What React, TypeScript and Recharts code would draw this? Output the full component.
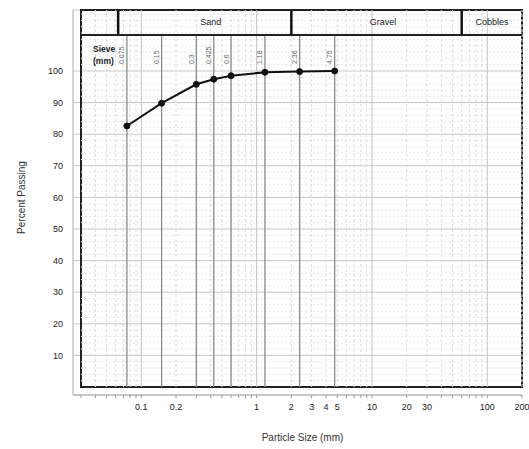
import React from 'react';
import {
  ComposedChart, Line, XAxis, YAxis, CartesianGrid, ReferenceLine, ReferenceArea, ReferenceDot,
} from 'recharts';

// Sieve data
const sieveSizes = [0.075, 0.15, 0.3, 0.425, 0.6, 1.18, 2.36, 4.75];
const sieveLabels = ['0.075', '0.15', '0.3', '0.425', '0.6', '1.18', '2.36', '4.75'];
const percentPassing = [82.6, 89.8, 95.8, 97.4, 98.5, 99.6, 99.8, 100];

// Axes
const xMin = 0.03;
const xMax = 200;
const yMax = 119.3;
const bandBottom = 111.4;
const xTicks = [
  0.03, 0.04, 0.05, 0.06, 0.07, 0.08, 0.09,
  0.1, 0.2, 0.3, 0.4, 0.5, 0.6, 0.7, 0.8, 0.9,
  1, 2, 3, 4, 5, 6, 7, 8, 9,
  10, 20, 30, 40, 50, 60, 70, 80, 90,
  100, 200,
];
const xTickLabels = ['0.1', '0.2', '1', '2', '3', '4', '5', '10', '20', '30', '100', '200'];
const xDecades = [0.1, 1, 10, 100];
const yTicks = [10, 20, 30, 40, 50, 60, 70, 80, 90, 100];
const yMinorGrid = [
  2, 4, 6, 8, 12, 14, 16, 18, 22, 24, 26, 28, 32, 34, 36, 38, 42, 44, 46, 48,
  52, 54, 56, 58, 62, 64, 66, 68, 72, 74, 76, 78, 82, 84, 86, 88, 92, 94, 96, 98,
  102, 104, 106, 108, 110, 112, 114, 116, 118,
];

// Soil classification band
const bandNames = ['', 'Sand', 'Gravel', 'Cobbles'];
const bandBounds = [0.03, 0.063, 2, 60, 200];
const bandLabelAt = [0.045, 0.4, 12.5, 110];
const bandLabelValue = 115.35;
const sieveHeaderAt = 0.03;
const sieveHeaderValue = 105;
const sieveLabelValue = 102.2;

const data = sieveSizes.map((s, i) => ({ size: s, pct: percentPassing[i] }));
const labelSet = new Set(xTickLabels);

const FONT = '"Liberation Sans", Arial, sans-serif';

const SieveLabel = (text: string) => (p: any) => {
  const vb = p.viewBox || p;
  const x = vb.x - 2.5;
  const y = vb.y;
  return (
    <text x={x} y={y} transform={`rotate(-90 ${x} ${y})`} fontSize={7} fill="#666" textAnchor="start" fontFamily={FONT}>
      {text}
    </text>
  );
};

const BandLabel = (text: string) => (p: any) => {
  const vb = p.viewBox || p;
  return (
    <text x={vb.x} y={vb.y} fontSize={9} fill="#222" textAnchor="middle" dominantBaseline="central" fontFamily={FONT}>
      {text}
    </text>
  );
};

const SieveHeader = (p: any) => {
  const vb = p.viewBox || p;
  return (
    <text x={vb.x + 12} y={vb.y} fontSize={8.5} fill="#222" fontWeight="bold" fontFamily={FONT}>
      <tspan x={vb.x + 12} dy={-3}>Sieve</tspan>
      <tspan x={vb.x + 12} dy={12}>(mm)</tspan>
    </text>
  );
};

const YTitle = (p: any) => {
  const vb = p.viewBox || p;
  const x = vb.x + 20;
  const y = vb.y + vb.height / 2 - 5;
  return (
    <text x={x} y={y} transform={`rotate(-90 ${x} ${y})`} fontSize={10} fill="#333" textAnchor="middle" dominantBaseline="central" fontFamily={FONT}>
      Percent Passing
    </text>
  );
};

const XTitle = (p: any) => {
  const vb = p.viewBox || p;
  return (
    <text x={vb.x + vb.width / 2 + 5} y={vb.y + 42} fontSize={10} fill="#333" textAnchor="middle" dominantBaseline="central" fontFamily={FONT}>
      Particle Size (mm)
    </text>
  );
};

export default function App() {
  return (
    <div style={{ position: 'absolute', left: 0, top: 0, width: 529, height: 449, background: '#fff', fontFamily: FONT }}>
      <ComposedChart width={529} height={449} data={data} margin={{ top: 10, right: 7, bottom: 24, left: 1 }}>
        <CartesianGrid horizontal vertical={false} stroke="#c8c8c8" />
        <XAxis
          dataKey="size"
          type="number"
          scale="log"
          domain={[xMin, xMax]}
          ticks={xTicks}
          interval={0}
          allowDataOverflow
          padding={{ left: 8, right: 0 }}
          height={30}
          tickSize={3}
          tickMargin={6}
          tickLine={{ stroke: '#999' }}
          axisLine={{ stroke: '#aaa' }}
          tick={{ fontSize: 9, fill: '#222', fontFamily: FONT }}
          tickFormatter={(v: number) => (labelSet.has(String(v)) ? String(v) : '')}
          label={XTitle}
        />
        <YAxis
          type="number"
          domain={[0, yMax]}
          ticks={yTicks}
          interval={0}
          allowDataOverflow
          padding={{ top: 0, bottom: 8 }}
          width={72}
          tickLine={false}
          tickMargin={4}
          axisLine={{ stroke: '#aaa' }}
          tick={{ fontSize: 9, fill: '#222', fontFamily: FONT }}
          label={YTitle}
        />

        {yMinorGrid.map((v) => (
          <ReferenceLine key={'hy' + v} segment={[{ x: xMin, y: v }, { x: xMax, y: v }]} stroke="#e6e6e6" strokeDasharray="2 2" />
        ))}
        {xTicks.filter((v) => v !== xMin).map((v) => (
          <ReferenceLine
            key={'vx' + v}
            segment={[{ x: v, y: 0 }, { x: v, y: yMax }]}
            stroke={xDecades.includes(v) ? '#c4c4c4' : '#dedede'}
            strokeDasharray={xDecades.includes(v) ? undefined : '3 2'}
          />
        ))}

        {sieveSizes.map((s) => (
          <ReferenceLine key={'sv' + s} segment={[{ x: s, y: 0 }, { x: s, y: bandBottom }]} stroke="#8a8a8a" strokeWidth={1.3} />
        ))}
        {sieveSizes.map((s, i) => (
          <ReferenceDot key={'sl' + s} x={s} y={sieveLabelValue} r={0} fill="none" stroke="none" label={SieveLabel(sieveLabels[i])} />
        ))}
        <ReferenceDot x={sieveHeaderAt} y={sieveHeaderValue} r={0} fill="none" stroke="none" ifOverflow="visible" label={SieveHeader} />

        <ReferenceArea x1={xMin} x2={xMax} y1={0} y2={yMax} fill="none" stroke="#222" strokeWidth={2} />
        <ReferenceLine segment={[{ x: xMin, y: bandBottom }, { x: xMax, y: bandBottom }]} stroke="#222" strokeWidth={2} />
        {bandBounds.slice(1, -1).map((b) => (
          <ReferenceLine key={'bb' + b} segment={[{ x: b, y: bandBottom }, { x: b, y: yMax }]} stroke="#111" strokeWidth={2.5} />
        ))}
        {bandNames.map((n, i) =>
          n ? (
            <ReferenceDot key={'bn' + n} x={bandLabelAt[i]} y={bandLabelValue} r={0} fill="none" stroke="none" label={BandLabel(n)} />
          ) : null
        )}

        <Line
          dataKey="pct"
          stroke="#111"
          strokeWidth={2}
          dot={{ r: 3, fill: '#111', stroke: '#111', strokeWidth: 1 }}
          isAnimationActive={false}
        />
      </ComposedChart>
    </div>
  );
}
